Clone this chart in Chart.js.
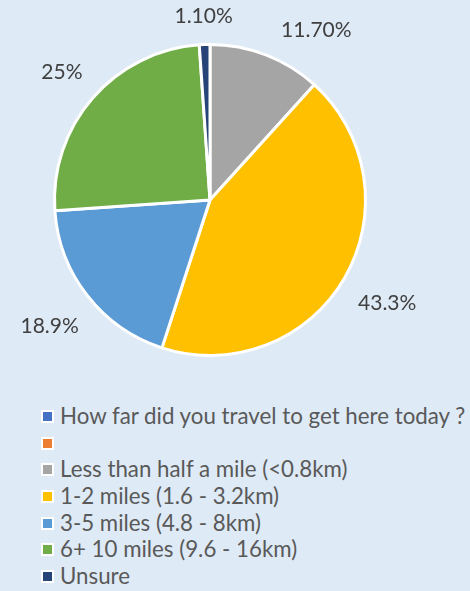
<!DOCTYPE html>
<html>
<head>
<meta charset="utf-8">
<script src="https://cdn.jsdelivr.net/npm/chart.js@4"></script>
<style>
  html, body { margin: 0; padding: 0; background: #deeaf6; }
  #wrap { width: 470px; height: 591px; position: relative; overflow: hidden; }
  #chartBox { position: absolute; left: 0; top: 0; width: 470px; height: 400px; }
  #legend { position: absolute; left: 41px; top: 403px; list-style: none; margin: 0; padding: 0;
    font-family: Lato, sans-serif; font-size: 22.3px; color: #595959; }
  #legend li { height: 26.7px; line-height: 26.7px; display: flex; align-items: center; white-space: nowrap; }
  #legend .box { width: 9px; height: 9px; border: 2px solid #fff; margin-right: 6px; flex: none; }
</style>
</head>
<body>
<div id="wrap">
  <div id="chartBox"><canvas id="pie"></canvas></div>
  <ul id="legend"></ul>
</div>
<script>
const categories = [
  'How far did you travel to get here today ?',
  '',
  'Less than half a mile (<0.8km)',
  '1-2 miles (1.6 - 3.2km)',
  '3-5 miles (4.8 - 8km)',
  '6+ 10 miles (9.6 - 16km)',
  'Unsure'
];
const shares = [0, 0, 11.7, 43.3, 18.9, 25, 1.1];
const shareLabels = ['', '', '11.70%', '43.3%', '18.9%', '25%', '1.10%'];
const colors = ['#4472c4', '#ed7d31', '#a5a5a5', '#ffc000', '#5b9bd5', '#70ad47', '#264478'];

// percent labels outside each slice, nudged clockwise when crowded
const outsideLabels = {
  id: 'outsideLabels',
  afterDatasetsDraw(chart) {
    const ctx = chart.ctx;
    const meta = chart.getDatasetMeta(0);
    const placed = [];
    const gap = 48;
    ctx.save();
    ctx.font = '21px Lato, sans-serif';
    ctx.fillStyle = '#404040';
    ctx.textAlign = 'center';
    ctx.textBaseline = 'middle';
    for (let i = meta.data.length - 1; i >= 0; i--) {
      const text = shareLabels[i];
      if (!text) continue;
      const arc = meta.data[i];
      const { x, y, startAngle, endAngle, outerRadius } = arc.getProps(['x', 'y', 'startAngle', 'endAngle', 'outerRadius'], true);
      const w = ctx.measureText(text).width;
      let ang = (startAngle + endAngle) / 2;
      let pos;
      for (let k = 0; k < 60; k++) {
        const dx = Math.cos(ang), dy = Math.sin(ang);
        const d = outerRadius + 20 + Math.abs(dx) * w / 2 + Math.abs(dy) * 8;
        pos = { x: x + dx * d, y: y + dy * d + 1, w: w, h: 16 };
        const hit = placed.some(p => Math.abs(p.x - pos.x) < (p.w + pos.w) / 2 + gap && Math.abs(p.y - pos.y) < (p.h + pos.h) / 2);
        if (!hit) break;
        ang += 0.01;
      }
      placed.push(pos);
      ctx.fillText(text, pos.x, pos.y);
    }
    ctx.restore();
  }
};

const chart = new Chart(document.getElementById('pie'), {
  type: 'pie',
  data: {
    labels: categories,
    datasets: [{
      data: shares,
      backgroundColor: colors,
      borderColor: '#ffffff',
      borderWidth: shares.map(v => v > 0 ? 3 : 0)
    }]
  },
  options: {
    responsive: true,
    maintainAspectRatio: false,
    animation: false,
    layout: { padding: { left: 35, right: 85, top: 43, bottom: 43 } },
    plugins: {
      legend: { display: false },
      tooltip: { enabled: false }
    }
  },
  plugins: [outsideLabels]
});

// html legend built from the chart's own legend items
const legendEl = document.getElementById('legend');
chart.options.plugins.legend.labels.generateLabels(chart).forEach(item => {
  const li = document.createElement('li');
  const box = document.createElement('span');
  box.className = 'box';
  box.style.background = item.fillStyle;
  const txt = document.createElement('span');
  txt.textContent = item.text;
  li.appendChild(box);
  li.appendChild(txt);
  legendEl.appendChild(li);
});
</script>
</body>
</html>
